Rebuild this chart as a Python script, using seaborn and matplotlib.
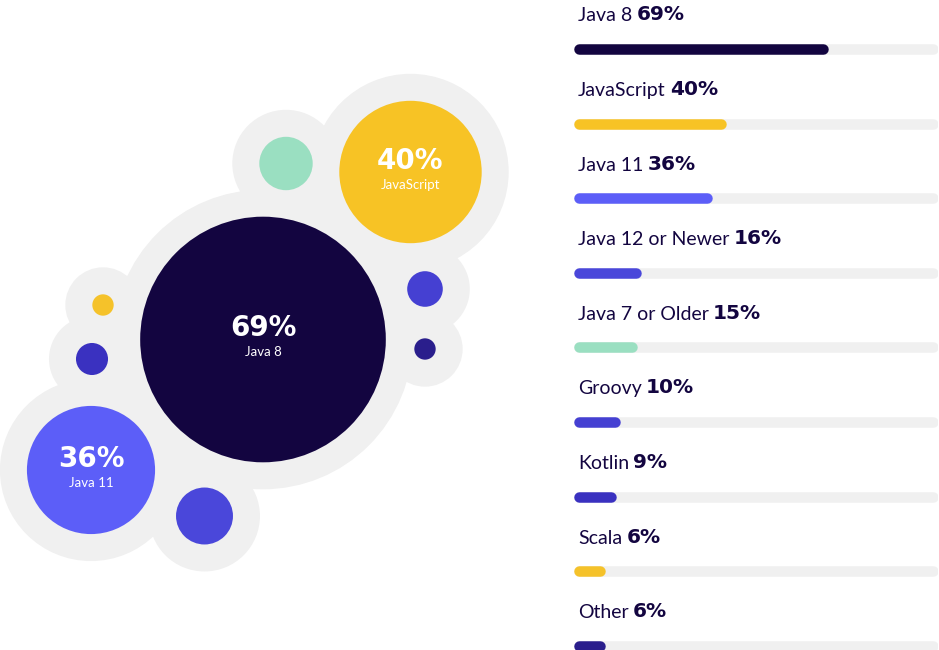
import matplotlib
matplotlib.use("Agg")
import matplotlib.pyplot as plt
import pandas as pd
import seaborn as sns

# data
languages = ["Java 8", "JavaScript", "Java 11", "Java 12 or Newer", "Java 7 or Older",
             "Groovy", "Kotlin", "Scala", "Other"]
shares = [69, 40, 36, 16, 15, 10, 9, 6, 6]

# bubble layout in pixel space (packing only, not data)
bubble_x = [263, 410.5, 91, 204.5, 286, 425, 92, 103, 425]
bubble_y = [339.5, 172, 470, 516, 163.5, 289, 359, 305, 349]

palette = {
    "Java 8": "#130540",
    "JavaScript": "#f7c325",
    "Java 11": "#5c5ef8",
    "Java 12 or Newer": "#4a47da",
    "Java 7 or Older": "#9adfc1",
    "Groovy": "#4540d2",
    "Kotlin": "#3a31c0",
    "Scala": "#f5c22a",
    "Other": "#2a1e8c",
}
INK = "#130540"
HALO = "#f0f0f0"
PCT_FONT = ["DejaVu Sans"]   # wide heavy digits like the original

DPI = 100
PT = 72 / DPI          # points per pixel
PX_PER_PCT = 1.78      # bubble radius in px per percent
HALO_PAD = 27          # grey blob margin around each bubble, px

W, H = 939, 650

df = pd.DataFrame({"language": languages, "share": shares, "x": bubble_x, "y": bubble_y})
df["radius"] = df["share"] * PX_PER_PCT

sns.set_theme(style="white")
plt.rcParams["font.family"] = ["Lato", "DejaVu Sans"]

fig = plt.figure(figsize=(W / DPI, H / DPI), dpi=DPI)

# ---- bubbles ----
ax = fig.add_axes([0, 0, 1, 1])
halo_sizes = {l: (2 * (r + HALO_PAD) * PT) ** 2 for l, r in zip(df["language"], df["radius"])}
bubble_sizes = {l: (2 * r * PT) ** 2 for l, r in zip(df["language"], df["radius"])}
sns.scatterplot(data=df, x="x", y="y", size="language", sizes=halo_sizes, color=HALO,
                linewidth=0, legend=False, ax=ax, zorder=1)
sns.scatterplot(data=df, x="x", y="y", hue="language", palette=palette, size="language",
                sizes=bubble_sizes, linewidth=0, legend=False, ax=ax, zorder=2)
for _, row in df[df["share"] >= 30].iterrows():
    ax.text(row["x"], row["y"] - 11, f"{row['share']}%", color="white", fontsize=20,
            fontweight="bold", family=PCT_FONT, ha="center", va="center", zorder=3)
    ax.text(row["x"], row["y"] + 13, row["language"], color="white", fontsize=9.5,
            ha="center", va="center", zorder=3)
ax.set_xlim(0, W)
ax.set_ylim(H, 0)
ax.set_axis_off()

# ---- progress bars ----
BAR_X0, BAR_X1 = 574, 938
ROW0, ROW_STEP = 49, 74.6
BAR_PX = 10.5
ax2 = fig.add_axes([BAR_X0 / W, 0, (BAR_X1 - BAR_X0) / W, 1])
ax2.set_xlim(0, 100)
ax2.set_ylim((H - ROW0) / ROW_STEP, -ROW0 / ROW_STEP)
ax2.set_axis_off()

cap = BAR_PX / 2 / (BAR_X1 - BAR_X0) * 100
rows = list(range(len(languages)))
ax2.hlines(rows, cap, 100 - cap, color=HALO, lw=BAR_PX * PT, capstyle="round")
ax2.hlines(rows, cap, [cap + s * (100 - 2 * cap) / 100 for s in shares],
           colors=[palette[l] for l in languages], lw=BAR_PX * PT, capstyle="round")

label_dy = 27.5 / ROW_STEP
label_x = (578 - BAR_X0) / (BAR_X1 - BAR_X0) * 100
for i, (lang, s) in enumerate(zip(languages, shares)):
    t = ax2.text(label_x, i - label_dy, lang, color=INK, fontsize=14, ha="left", va="baseline")
    ax2.annotate(f"{s}%", xy=(1, 0), xycoords=t, xytext=(3, 0), textcoords="offset points",
                 color=INK, fontsize=14.5, fontweight="bold", family=PCT_FONT,
                 ha="left", va="bottom")

fig.savefig("out.png", dpi=DPI)
